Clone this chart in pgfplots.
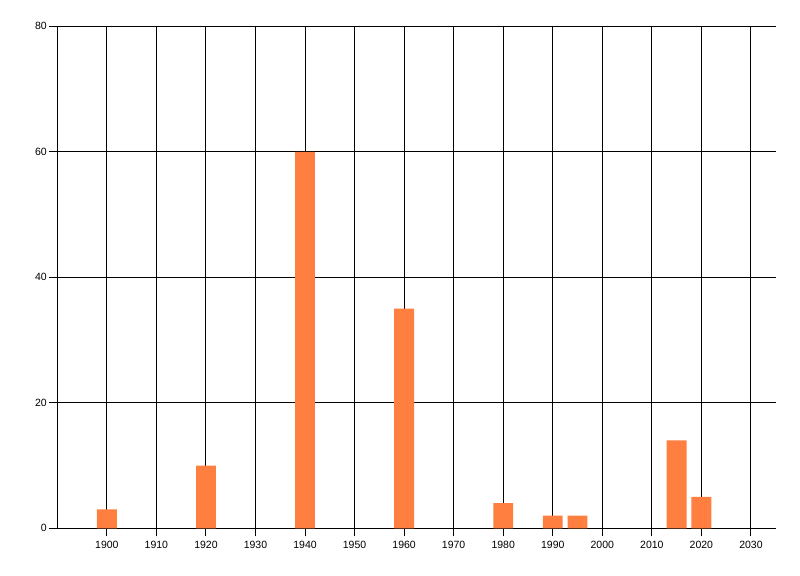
\documentclass[border=0pt]{standalone}
\usepackage{pgfplots}
\pgfplotsset{compat=1.18}
\usepackage{fontspec}
\setmainfont{Liberation Sans}
\definecolor{barc}{HTML}{FF7F40}
\begin{document}
\begin{tikzpicture}
\useasboundingbox (0,0) rectangle (800bp,576bp);
\begin{axis}[
  at={(57.3bp,47.7bp)}, anchor=south west,
  scale only axis, width=718.4bp, height=502bp,
  xmin=1890, xmax=2035, ymin=0, ymax=80,
  axis x line*=bottom, axis y line*=left,
  axis line style={black, line width=0.9bp, -},
  xtick={1900,1910,...,2030}, ytick={0,20,40,60,80},
  grid=major, major grid style={black, line width=0.9bp},
  major tick length=8bp,
  xtick align=center, ytick align=outside,
  tick style={black, line width=0.9bp},
  xticklabel style={font=\fontsize{10.5bp}{12bp}\selectfont, yshift=-1bp},
  yticklabel style={font=\fontsize{10.5bp}{12bp}\selectfont, xshift=1bp},
  /pgf/number format/assume math mode=true,
  /pgf/number format/1000 sep={},
  ybar, bar width=4, bar shift=0pt,
  clip=false,
]
\addplot[fill=barc, draw=none] coordinates {
  (1900,3) (1920,10) (1940,60) (1960,35) (1980,4)
  (1990,2) (1995,2) (2015,14) (2020,5)
};
\end{axis}
\end{tikzpicture}
\end{document}
